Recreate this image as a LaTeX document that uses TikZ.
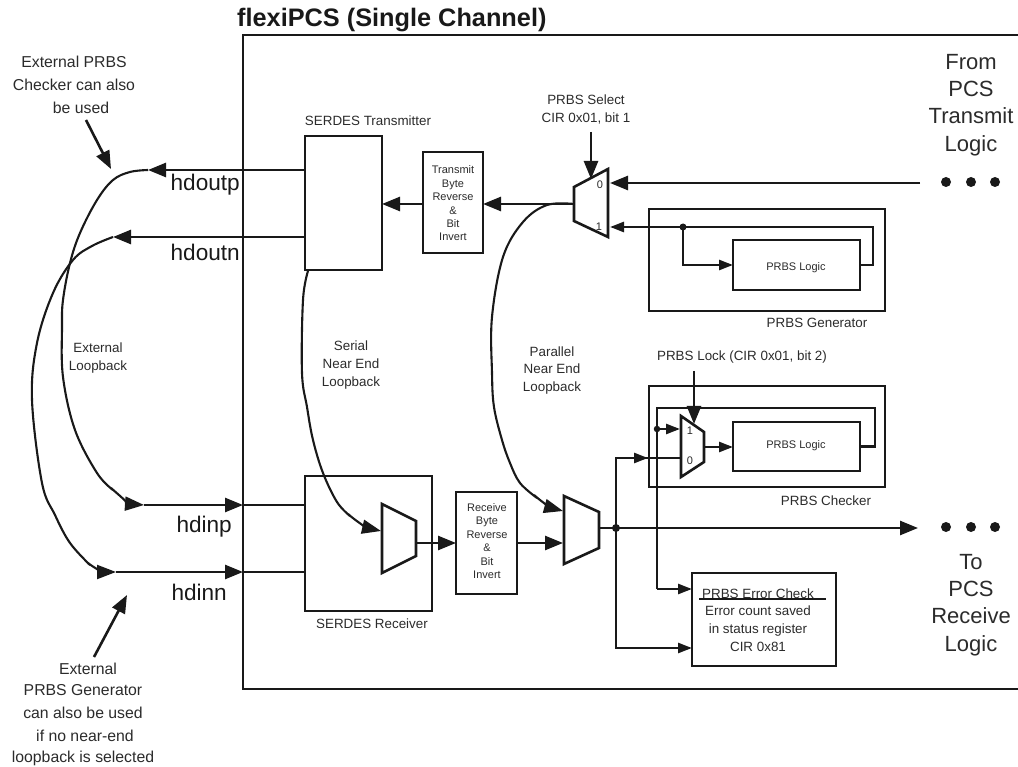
\documentclass[tikz,border=0pt]{standalone}
\usepackage{fontspec}
\setmainfont{Liberation Sans}
\usetikzlibrary{arrows.meta}
\definecolor{ink}{gray}{0.10}
\definecolor{txt}{gray}{0.17}
\tikzset{
  wire/.style={line width=2.6pt,draw=ink,line join=miter},
  arr/.style={wire,-{Triangle[length=18pt,width=14pt]}},
  arrs/.style={wire,-{Triangle[length=14pt,width=10pt]}},
  thin curve/.style={line width=2.1pt,draw=ink,line join=round},
  curvearr/.style={thin curve,-{Triangle[length=19pt,width=14pt]}},
  block/.style={draw=ink,line width=2.6pt,rectangle,inner sep=0pt,outer sep=0pt},
  muxs/.style={draw=ink,line width=2.6pt,fill=white,line join=miter},
  dot/.style={circle,fill=ink,inner sep=0pt,outer sep=0pt,minimum size=#1},
  lab/.style={align=center,inner sep=0pt,text=txt},
  L8/.style={lab,font=\fontsize{11}{13.4}\selectfont},
  L9/.style={lab,font=\fontsize{13.4}{18}\selectfont},
  L10/.style={lab,font=\fontsize{13.4}{17.8}\selectfont},
  L11/.style={lab,font=\fontsize{15.8}{23}\selectfont},
  Lbig/.style={lab,font=\fontsize{22}{27.2}\selectfont},
  Lhd/.style={lab,text=ink,font=\fontsize{22.6}{24}\selectfont},
}
\begin{document}
\begin{tikzpicture}[x=1pt,y=-1pt]
\useasboundingbox (0,0) rectangle (1018,767);
% outer frame
\draw[wire] (1018,35) -- (243,35) -- (243,689) -- (1018,689);
\node[lab,text=ink,font=\bfseries\fontsize{25.3}{28}\selectfont,anchor=base west] (title) at (237,27) {flexiPCS (Single Channel)};

% blocks
\node[block,minimum width=77pt,minimum height=134pt] (tx) at (343.5,203) {};
\node[block,minimum width=60pt,minimum height=101pt] (txrev) at (453,202.5) {};
\node[block,minimum width=127pt,minimum height=135pt] (rx) at (368.5,543.5) {};
\node[block,minimum width=61pt,minimum height=102pt] (rxrev) at (486.5,543) {};
\node[block,minimum width=236pt,minimum height=102pt] (gen) at (767,260) {};
\node[block,minimum width=127pt,minimum height=50pt] (genlog) at (796.5,265) {};
\node[block,minimum width=236pt,minimum height=101pt] (chk) at (767,436.5) {};
\node[block,minimum width=127pt,minimum height=49pt] (chklog) at (796.5,446.5) {};
\node[block,minimum width=144pt,minimum height=93pt] (err) at (764,619.5) {};

% free ends and ports
\coordinate (txmuxout) at (574,204);
\coordinate (txmux0) at (610,183);
\coordinate (txmux1) at (610,227);
\coordinate (rxmuxin1) at (563,511);
\coordinate (rxmuxin2) at (563,543);
\coordinate (rxmuxout) at (599,528);
\coordinate (srdmuxin) at (381,531);
\coordinate (srdmuxout) at (416,543);
\coordinate (chkmux1) at (680,429);
\coordinate (chkmuxout) at (704,447);
\coordinate (chkmuxtop) at (694,424);
\coordinate (pin1) at (243,505);
\coordinate (pin2) at (243,572);
\coordinate (poutp) at (148,170);
\coordinate (poutn) at (113,237);
\coordinate (pinp) at (144,505);
\coordinate (pinn) at (116,572);
\coordinate (dot1) at (920,183);
\coordinate (outtip) at (918,528);
\coordinate (selstart) at (591,132);
\coordinate (seltip) at (591,179);
\coordinate (lock) at (694,371);

% internal wires
\draw[arr] (txmuxout) -- (txrev.east |- txmuxout);
\draw[arr] (txrev.west |- txmuxout) -- (tx.east |- txmuxout);
\draw[arr] (tx.west |- poutp) -- (poutp);
\draw[arr] (tx.west |- poutn) -- (poutn);
\draw[arr] (dot1) -- (txmux0);
\draw[arr] (selstart) -- (seltip);
\draw[arrs] (genlog.east) -- (873,265) -- (873,227) -- (txmux1);
\node[dot=7pt] (gendot) at (683,227) {};
\draw[arrs] (gendot.center) |- (genlog.west);
\draw[wire] (pin1) -- (rx.west |- pin1);
\draw[wire] (pin2) -- (rx.west |- pin2);
\draw[arr] (pinp) -- (pin1);
\draw[arr] (pinn) -- (pin2);
\draw[arr] (srdmuxout) -- (rxrev.west |- srdmuxout);
\draw[arr] (rxrev.east |- rxmuxin2) -- (rxmuxin2);
\node[dot=8pt] (outdot) at (616,528) {};
\draw[arr] (rxmuxout) -- (outtip);
\draw[arrs] (chkmuxout) -- (chklog.west |- chkmuxout);
\draw[wire] (chklog.east) -- (875,446.5) -- (875,408) -- (657,408) -- (657,589);
\draw[arrs] (657,589) -- (err.west |- 0,589);
\node[dot=6.5pt] (chkdot) at (657,429) {};
\draw[arrs] (chkdot.center) -- (chkmux1);
\draw[wire] (outdot.center) |- (681,458);
\draw[arrs] (616,458) -- (648,458);
\draw[arrs] (outdot.center) |- (err.west |- 0,648);
\draw[wire] (699,599) -- (826,599);

% muxes
\draw[muxs] (574,187) -- (608,169) -- (608,237) -- (574,221) -- cycle;
\draw[muxs] (681,416) -- (704,432) -- (704,462) -- (681,477) -- cycle;
\draw[muxs] (564,496) -- (599,512) -- (599,548) -- (564,564) -- cycle;
\draw[muxs] (382,504) -- (416,521) -- (416,556) -- (382,573) -- cycle;
\draw[arr] (lock) -- (chkmuxtop);

% loopback curves
\draw[thin curve] plot[smooth,tension=0.6] coordinates {(poutp) (130,172) (113,180) (97,200) (80,233) (70,263) (63,300) (62,327) (63,377) (75,430) (97,473) (113,490)};
\draw[curvearr] (111,488) .. controls (120,496) and (130,504) .. (pinp);
\draw[thin curve] plot[smooth,tension=0.6] coordinates {(poutn) (92,246) (73,260) (53,293) (37,343) (32,400) (42,483) (55,515) (70,543) (90,565)};
\draw[curvearr] (88,563) .. controls (94,568) and (104,572) .. (pinn);
\draw[thin curve] plot[smooth,tension=0.6] coordinates {(308,271) (303,300) (302,373) (307,407) (313,440) (323,473) (337,502) (350,516)};
\draw[curvearr] (348,514) .. controls (357,522) and (368,528) .. (srdmuxin);
\draw[thin curve] plot[smooth,tension=0.6] coordinates {(txmuxout) (547,205) (523,222) (503,257) (492,317) (492,373) (494,407) (502,440) (510,463) (520,483) (537,498)};
\draw[curvearr] (534,495) .. controls (543,503) and (552,508) .. (rxmuxin1);

% annotation arrows
\coordinate (extchk) at (86,120);
\coordinate (extchktip) at (111,169);
\coordinate (extgen) at (94,657);
\coordinate (extgentip) at (127,595);
\draw[arr] (extchk) -- (extchktip);
\draw[arr] (extgen) -- (extgentip);

% dots
\foreach \n/\x in {a/946,b/971,c/995}{
  \node[dot=10pt] (top\n) at (\x,182) {};
  \node[dot=10pt] (bot\n) at (\x,527) {};
}

% labels
\node[L11] (l1) at (74,85) {External PRBS\\Checker can also\\\hspace*{14pt}be used};
\node[Lhd,anchor=east] (l2) at (240,185) {hdoutp};
\node[Lhd,anchor=east] (l3) at (240,252) {hdoutn};
\node[Lhd,anchor=east] (l4) at (232,527) {hdinp};
\node[Lhd,anchor=east] (l5) at (227,592) {hdinn};
\node[L9] (l6) at (98,358) {External\\Loopback};
\node[L10] (l7) at (351,365) {Serial\\Near End\\Loopback};
\node[L10] (l8) at (552,370.5) {Parallel\\Near End\\Loopback};
\node[L9] (l9) at (586,110) {PRBS Select\\CIR 0x01, bit 1};
\node[L9] (l10) at (368,121) {SERDES Transmitter};
\node[L8] (l11) at (453,203.5) {Transmit\\Byte\\Reverse\\\&\\Bit\\Invert};
\node[L8] (l12) at (487,541) {Receive\\Byte\\Reverse\\\&\\Bit\\Invert};
\node[L9] (l13) at (372,624) {SERDES Receiver};
\node[L8] at (796,268) (l14) {PRBS Logic};
\node[L8] at (796,446) (l15) {PRBS Logic};
\node[L9] at (817,323) (l16) {PRBS Generator};
\node[L9] at (826,501) (l17) {PRBS Checker};
\node[L9] at (742,357) (l18) {PRBS Lock (CIR 0x01, bit 2)};
\node[L10] at (758,594) (l19) {PRBS Error Check};
\node[L10] at (758,629) (l20) {Error count saved\\in status register\\CIR 0x81};
\node[L8] at (600,185) (l21) {0};
\node[L8] at (599,227) (l22) {1};
\node[L8] at (690,431) (l23) {1};
\node[L8] at (690,461) (l24) {0};
\node[Lbig] at (971,105) (l25) {From\\PCS\\Transmit\\Logic};
\node[Lbig] at (971,605) (l26) {To\\PCS\\Receive\\Logic};
\node[L11] at (83,714) (l27) {\hspace*{10pt}External\\[-2pt]PRBS Generator\\can also be used\\\hspace*{4pt}if no near-end\\[-2pt]loopback is selected};
\end{tikzpicture}
\end{document}
